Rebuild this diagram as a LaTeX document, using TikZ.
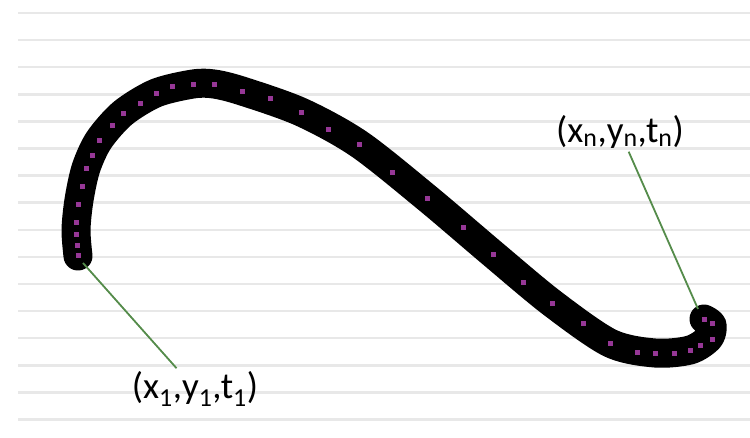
\documentclass[tikz,border=0pt]{standalone}
\usepackage{fontspec}
\setmainfont{Carlito}
\usepackage{tikz}
\definecolor{ruleline}{RGB}{232, 232, 232}
\definecolor{inkdot}{RGB}{150, 55, 150}
\definecolor{pointgreen}{RGB}{85, 140, 75}

\tikzset{
  ruled/.style={ruleline, line width=2.5pt},
  stroke/.style={line width=29pt, line cap=round, line join=round, black},
  sample/.style={fill=inkdot},
  pointer/.style={pointgreen, line width=1.8pt},
  tuple/.style={font=\fontsize{37}{42}\selectfont, inner sep=3pt}
}

\begin{document}
\begin{tikzpicture}[x=1pt, y=-1pt]
    \useasboundingbox[fill=white] (0,0) rectangle (750,437);

    % ruled paper
    \foreach \k in {0,...,15}{
      \draw[ruled] (18,{13+27.1*\k}) -- (750,{13+27.1*\k});
    }

    % handwritten stroke
    \draw[stroke] plot[smooth, tension=0.5] coordinates {
      (78,256) (76,230) (79,200) (86,168) (99,140) (123,113) (156,93)
      (193,84) (214,84) (242,91) (301,112) (359,144) (427,198) (493,254)
      (552,303) (610,343) (655,353) (690,350) (709,338) (712,325) (704,319)};

    % sampled points
    \foreach \px/\py in {
        78/255, 77/245, 76/234, 76/222, 78/204, 82/186, 86/168, 92/155,
        99/140, 112/125, 123/113, 140/103, 156/93, 172/86, 193/84, 214/84,
        242/91, 270/98, 301/112, 328/129, 359/144, 392/172, 427/198,
        463/227, 493/254, 523/282, 552/303, 583/323, 610/343, 637/352,
        655/353, 674/353, 690/350, 700/345, 712/339, 712/323, 704/319}{
      \fill[sample] (\px-2.5,\py-2.5) rectangle (\px+2.5,\py+2.5);
    }

    % end points
    \coordinate (first) at (83,263);
    \coordinate (last) at (698,309);

    % labels
    \node[tuple] (lab1) at (195,389)
      {(x\textsubscript{1},y\textsubscript{1},t\textsubscript{1})};
    \node[tuple] (labn) at (620,132)
      {(x\textsubscript{n},y\textsubscript{n},t\textsubscript{n})};

    \draw[pointer] (first) -- (lab1);
    \draw[pointer] (last) -- (labn);

\end{tikzpicture}
\end{document}
